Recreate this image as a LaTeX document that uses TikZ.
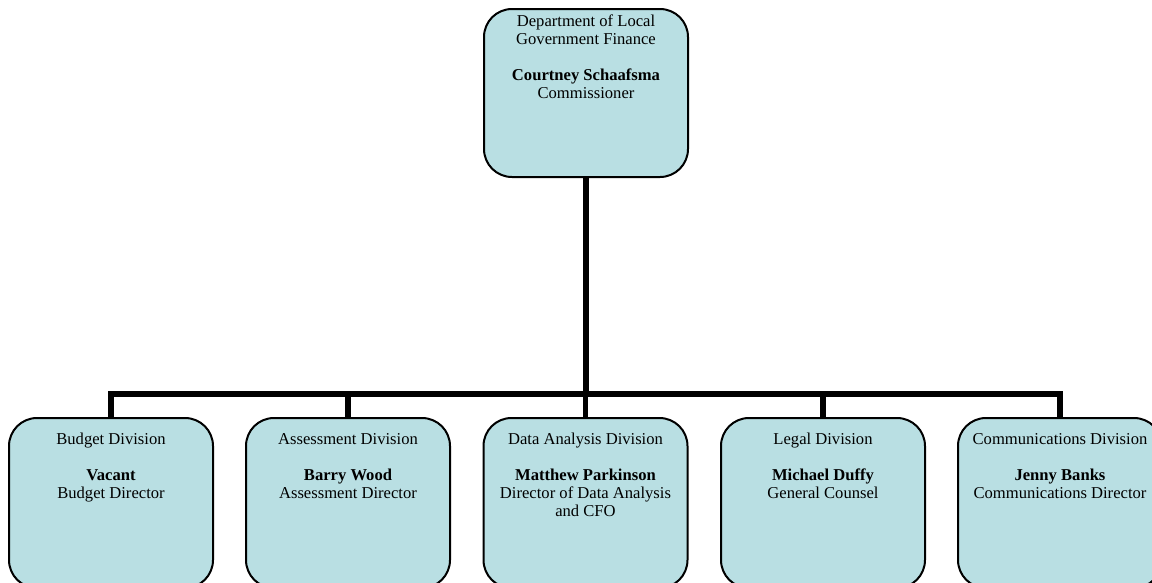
\documentclass[tikz,border=0pt]{standalone}
\usepackage{fontspec}
\setmainfont{Liberation Serif}
\definecolor{boxfill}{HTML}{B9DFE3}
\begin{document}
\begin{tikzpicture}[x=1pt,y=-1pt,
  box/.style={draw=black, line width=2pt, fill=boxfill, rounded corners=28pt,
    minimum width=204pt, inner sep=0pt, anchor=north},
  topbox/.style={box, minimum height=168pt},
  divbox/.style={box, minimum height=170pt},
  txt/.style={anchor=north, align=center, inner sep=0pt,
    font=\fontsize{16.6pt}{18pt}\selectfont},
  conn/.style={line width=5.5pt},
]
\useasboundingbox (0,0) rectangle (1152,582);
% boxes
\node[topbox] (top) at (586,8) {};
\node[divbox] (bud) at (111,417) {};
\node[divbox] (ass) at (348,417) {};
\node[divbox] (dat) at (585.5,417) {};
\node[divbox] (leg) at (823,417) {};
\node[divbox] (com) at (1060,417) {};
% connectors
\coordinate (bar) at (585.5,394);
\draw[conn] (top.south) -- (top.south |- bar);
\draw[conn] ([xshift=-2.75pt]bud.north |- bar) -- ([xshift=2.75pt]com.north |- bar);
\foreach \b in {bud,ass,dat,leg,com}{
  \draw[conn] (\b.north |- bar) -- (\b.north);
}
% texts
\node[txt] (ttop) at ([yshift=-7pt]top.north) {Department of Local\\Government Finance\\[18pt]\textbf{Courtney Schaafsma}\\Commissioner};
\node[txt] (tbud) at ([yshift=-16pt]bud.north) {Budget Division\\[18pt]\textbf{Vacant}\\Budget Director};
\node[txt] (tass) at ([yshift=-16pt]ass.north) {Assessment Division\\[18pt]\textbf{Barry Wood}\\Assessment Director};
\node[txt] (tdat) at ([yshift=-16pt]dat.north) {Data Analysis Division\\[18pt]\textbf{Matthew Parkinson}\\Director of Data Analysis\\and CFO};
\node[txt] (tleg) at ([yshift=-16pt]leg.north) {Legal Division\\[18pt]\textbf{Michael Duffy}\\General Counsel};
\node[txt] (tcom) at ([yshift=-16pt]com.north) {Communications Division\\[18pt]\textbf{Jenny Banks}\\Communications Director};
\end{tikzpicture}
\end{document}
